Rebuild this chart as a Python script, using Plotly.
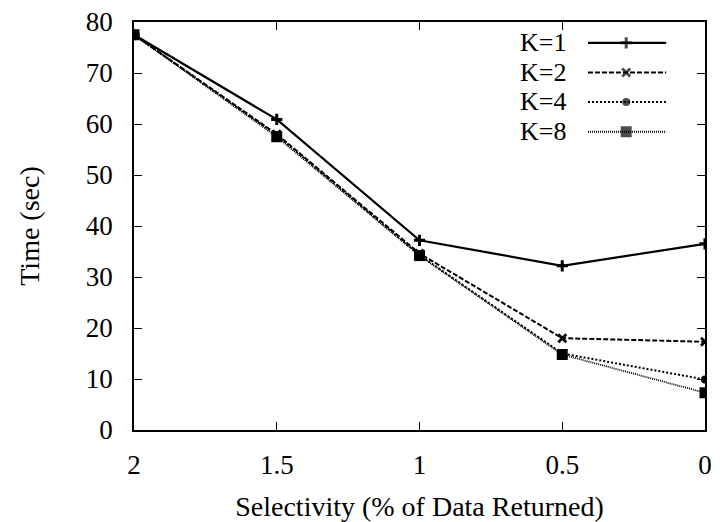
import plotly.graph_objects as go

selectivity = [2, 1.5, 1, 0.5, 0]
k1 = [77.5, 60.9, 37.2, 32.2, 36.5]
k2 = [77.5, 58.0, 34.6, 18.0, 17.3]
k4 = [77.5, 57.8, 34.3, 15.0, 9.9]
k8 = [77.5, 57.5, 34.2, 14.8, 7.3]
labels = ["K=1", "K=2", "K=4", "K=8"]
x_ticks = [2, 1.5, 1, 0.5, 0]
x_ticklabels = ["2", "1.5", "1", "0.5", "0"]
y_ticks = [0, 10, 20, 30, 40, 50, 60, 70, 80]

FONT = "Liberation Serif, Times New Roman, serif"

styles = [
    dict(dash="solid", width=2.2, symbol="cross-thin-open", size=8, mlw=3),
    dict(dash="5px,2px", width=2, symbol="x-thin-open", size=8, mlw=2.8),
    dict(dash="2px,2px", width=2, symbol="circle", size=8, mlw=0),
    dict(dash="1px,1px", width=1.8, symbol="square", size=11, mlw=0),
]
series = [k1, k2, k4, k8]

fig = go.Figure()
for lab, ys, st in zip(labels, series, styles):
    fig.add_trace(go.Scatter(
        x=selectivity, y=ys, mode="lines+markers", name=lab,
        line=dict(color="black", width=st["width"], dash=st["dash"]),
        marker=dict(color="black", symbol=st["symbol"], size=st["size"],
                    line=dict(color="black", width=st["mlw"])),
        showlegend=False,
    ))

# Manual legend: label on the left, line sample on the right
leg_y = [0.949, 0.876, 0.804, 0.731]
for lab, st, yy in zip(labels, styles, leg_y):
    fig.add_trace(go.Scatter(
        x=[0.795, 0.862, 0.932], y=[yy, yy, yy], mode="lines+markers",
        xaxis="x2", yaxis="y2", showlegend=False, hoverinfo="skip",
        line=dict(color="black", width=st["width"], dash=st["dash"]),
        marker=dict(color="black", symbol=st["symbol"], size=[0, st["size"], 0],
                    line=dict(color="black", width=st["mlw"])),
    ))
    fig.add_annotation(
        x=0.76, y=yy, xref="x2", yref="y2", text=lab, showarrow=False,
        xanchor="right", yanchor="middle",
        font=dict(family=FONT, size=26, color="black"),
    )

axis_common = dict(
    showgrid=False, zeroline=False, showline=True, linecolor="black",
    linewidth=1.5, mirror="ticks", ticks="inside", ticklen=8,
    tickcolor="black", tickwidth=1, automargin=False,
    tickfont=dict(family=FONT, size=27, color="black"),
)

fig.update_layout(
    width=720, height=522,
    margin=dict(l=134, r=15, t=22, b=92),
    paper_bgcolor="white", plot_bgcolor="white",
    font=dict(family=FONT, color="black"),
    xaxis=dict(range=[2, 0], tickvals=x_ticks, ticktext=x_ticklabels,
               ticklabelstandoff=10,
               title=dict(text="Selectivity (% of Data Returned)",
                          font=dict(family=FONT, size=28, color="black"),
                          standoff=18),
               **axis_common),
    yaxis=dict(range=[0, 80], tickvals=y_ticks, ticklabelstandoff=14,
               title=dict(text="Time (sec)",
                          font=dict(family=FONT, size=28, color="black"),
                          standoff=38),
               **axis_common),
    xaxis2=dict(range=[0, 1], overlaying="x", visible=False, fixedrange=True),
    yaxis2=dict(range=[0, 1], overlaying="y", visible=False, fixedrange=True),
    showlegend=False,
)

fig.write_html("out.html")
